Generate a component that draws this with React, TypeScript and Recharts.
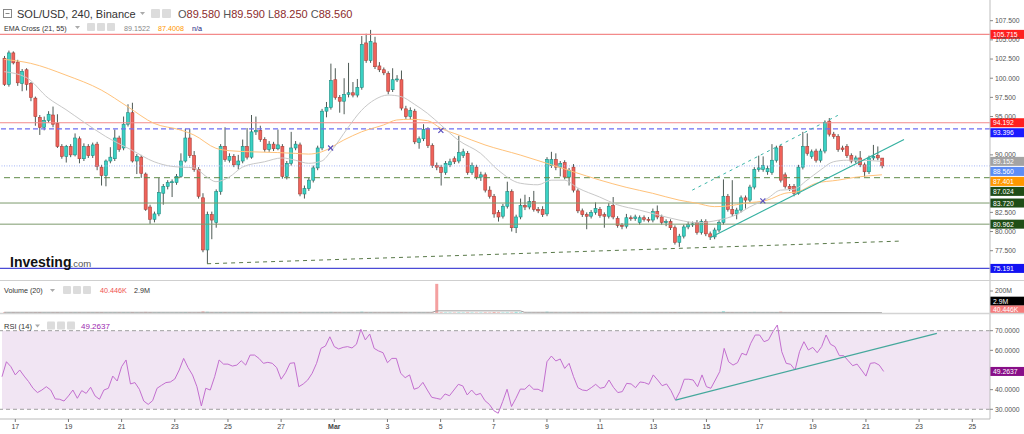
import React from 'react';
import { ComposedChart, Bar, Line, XAxis, YAxis, ReferenceLine, ReferenceArea } from 'recharts';

const FONT = "'Liberation Sans', Arial, Helvetica, sans-serif";

// ---------- DATA (4h candles, index 0 = Feb 16 12:00) ----------
const opens = [
  102.6, 99.2, 103.3, 102.1, 99.3, 101.1, 99.3, 97.4, 94.9, 93.6,
  94.5, 95.2, 94.1, 91.1, 89.8, 91.1, 90.0, 92.1, 89.5, 91.1,
  89.9, 91.4, 88.4, 87.3, 89.2, 89.5, 92.2, 90.9, 94.0, 95.5,
  89.2, 89.7, 87.5, 83.2, 81.6, 82.3, 85.0, 85.9, 86.4, 86.4,
  87.2, 89.2, 92.2, 89.9, 88.1, 84.4, 77.6, 82.2, 81.2, 85.2,
  91.1, 89.3, 89.8, 88.7, 89.2, 91.1, 89.7, 93.0, 93.2, 92.0,
  90.7, 91.4, 90.8, 91.1, 87.2, 88.9, 90.9, 91.3, 84.9, 85.6,
  86.7, 88.3, 90.9, 95.7, 96.2, 99.8, 97.5, 97.0, 97.9, 98.1,
  97.8, 98.8, 104.6, 102.3, 104.6, 101.6, 101.1, 100.6, 98.5, 99.8,
  99.8, 96.0, 95.0, 95.7, 91.6, 92.1, 93.4, 91.2, 88.6, 88.4,
  87.7, 88.7, 89.5, 89.2, 89.9, 90.2, 87.7, 88.4, 87.1, 87.4,
  85.4, 84.6, 82.5, 82.0, 83.3, 85.2, 80.5, 81.9, 83.4, 83.2,
  83.9, 82.9, 82.9, 82.3, 88.6, 89.4, 88.4, 89.0, 87.1, 88.4,
  85.3, 82.7, 82.2, 82.0, 82.5, 82.9, 82.2, 82.0, 83.4, 81.7,
  80.8, 80.7, 81.8, 81.7, 81.2, 81.8, 81.6, 81.5, 82.6, 81.9,
  81.2, 81.3, 80.5, 78.6, 79.4, 80.6, 80.9, 81.2, 79.9, 81.3,
  79.7, 79.3, 80.2, 81.2, 84.6, 82.9, 82.3, 82.8, 84.4, 84.1,
  85.8, 88.1, 88.1, 87.8, 87.7, 89.3, 91.1, 87.4, 85.9, 85.9,
  85.0, 88.4, 91.1, 89.8, 90.5, 89.3, 90.5, 94.4, 92.7, 92.4,
  90.9, 91.1, 89.9, 89.2, 89.6, 88.7, 87.8, 89.6, 89.9, 89.58,
];
const highs = [
  102.9, 103.6, 103.5, 102.4, 101.2, 101.3, 99.5, 97.6, 95.2, 95.0,
  95.7, 96.3, 95.3, 91.4, 91.3, 91.4, 92.8, 92.4, 91.5, 91.4,
  91.6, 91.7, 88.7, 89.4, 91.0, 93.3, 92.5, 95.0, 96.6, 96.8,
  90.1, 90.0, 87.7, 83.5, 82.6, 87.0, 86.2, 86.7, 86.8, 87.5,
  90.2, 93.4, 93.4, 90.5, 88.4, 85.0, 82.6, 82.6, 85.5, 91.4,
  93.6, 90.2, 90.1, 90.0, 92.0, 93.5, 95.2, 95.0, 93.8, 92.3,
  91.8, 91.7, 93.3, 91.4, 89.2, 93.0, 91.8, 91.6, 86.0, 87.0,
  88.6, 91.2, 96.0, 96.9, 101.9, 101.3, 97.8, 100.0, 102.0, 99.5,
  99.9, 105.5, 105.8, 106.3, 105.4, 102.1, 101.4, 100.9, 101.3, 100.4,
  101.0, 96.4, 96.2, 96.0, 92.4, 94.0, 93.6, 91.5, 89.0, 88.7,
  89.2, 89.5, 89.8, 92.5, 90.8, 90.5, 89.0, 88.7, 87.8, 87.7,
  85.9, 84.9, 82.8, 83.6, 86.5, 85.5, 82.2, 84.3, 84.8, 84.5,
  85.3, 83.2, 83.3, 89.7, 90.4, 90.2, 89.2, 89.3, 88.3, 88.8,
  85.6, 83.0, 82.5, 82.8, 83.8, 83.2, 82.5, 83.7, 84.5, 82.0,
  81.1, 82.3, 82.1, 82.2, 82.1, 82.1, 81.9, 83.0, 83.4, 82.2,
  81.6, 81.6, 80.8, 79.7, 80.9, 81.3, 81.3, 81.5, 81.6, 81.6,
  80.0, 80.5, 81.5, 86.8, 84.9, 86.7, 83.1, 84.7, 84.7, 86.1,
  88.4, 89.9, 89.8, 88.6, 91.4, 91.2, 91.3, 87.7, 86.2, 86.2,
  88.7, 93.0, 92.8, 90.7, 90.8, 90.8, 94.5, 94.8, 93.0, 92.7,
  91.2, 91.4, 90.2, 89.9, 90.5, 89.0, 89.9, 91.3, 91.1, 89.59,
];
const lows = [
  99.0, 98.9, 101.8, 99.0, 98.3, 98.4, 97.0, 93.8, 92.6, 93.2,
  94.2, 93.6, 90.9, 89.5, 89.0, 89.7, 89.8, 88.9, 89.2, 89.6,
  89.6, 88.0, 86.0, 85.9, 88.9, 89.2, 90.4, 90.6, 93.7, 89.0,
  87.5, 87.0, 82.7, 81.0, 81.2, 82.0, 83.5, 85.5, 84.5, 86.1,
  87.0, 89.0, 89.6, 87.8, 84.3, 77.3, 75.8, 79.0, 80.5, 84.8,
  89.1, 89.0, 88.4, 88.1, 88.9, 89.4, 89.5, 92.6, 91.7, 90.4,
  90.4, 90.5, 90.6, 86.9, 86.8, 88.6, 90.6, 84.6, 84.3, 85.3,
  86.4, 88.0, 90.6, 94.9, 95.9, 97.2, 95.5, 95.3, 97.5, 97.5,
  97.5, 98.5, 102.0, 102.0, 101.2, 100.8, 100.4, 97.9, 98.2, 99.5,
  95.8, 94.7, 94.6, 91.4, 90.8, 91.8, 90.9, 88.3, 88.0, 86.0,
  87.4, 88.4, 88.8, 88.9, 89.6, 87.4, 87.4, 86.8, 86.6, 85.1,
  84.3, 81.8, 81.3, 81.7, 83.0, 80.0, 79.8, 81.6, 82.8, 82.9,
  82.6, 82.4, 81.9, 82.0, 88.3, 88.0, 87.2, 86.8, 86.0, 85.1,
  82.4, 81.9, 80.3, 81.7, 82.2, 81.8, 80.5, 81.7, 81.6, 80.5,
  80.3, 80.4, 81.4, 81.4, 80.9, 81.3, 81.2, 81.2, 81.6, 80.9,
  80.7, 80.2, 78.3, 78.0, 79.1, 80.3, 80.6, 79.6, 79.6, 79.4,
  78.9, 79.0, 79.9, 80.9, 82.6, 82.0, 81.6, 82.5, 83.0, 83.8,
  85.5, 87.8, 87.8, 87.4, 87.4, 89.0, 86.4, 85.6, 85.3, 84.6,
  84.8, 88.1, 89.9, 89.5, 89.0, 89.0, 90.2, 92.4, 92.1, 90.4,
  90.4, 89.6, 88.9, 88.9, 88.4, 87.1, 87.5, 89.3, 89.3, 88.25,
];
const closes = [
  99.2, 103.3, 102.0, 99.4, 100.9, 99.2, 97.5, 95.0, 93.6, 94.5,
  95.3, 94.0, 91.1, 89.8, 91.1, 90.0, 92.2, 89.5, 91.1, 89.9,
  91.3, 88.5, 87.3, 89.2, 89.7, 92.2, 90.7, 94.0, 95.5, 89.2,
  89.8, 87.6, 82.9, 81.6, 82.3, 85.1, 85.9, 86.4, 86.5, 87.2,
  89.2, 92.2, 89.9, 88.1, 84.6, 77.6, 82.2, 81.5, 85.2, 91.1,
  89.4, 89.8, 88.7, 89.2, 91.1, 89.7, 93.0, 93.2, 92.0, 90.7,
  91.4, 90.8, 91.3, 87.2, 88.9, 90.9, 91.4, 84.9, 85.6, 86.7,
  88.3, 90.9, 95.7, 96.2, 99.7, 97.5, 97.0, 97.9, 98.1, 97.8,
  98.8, 104.4, 102.3, 104.8, 101.5, 101.1, 100.7, 98.3, 99.8, 99.9,
  96.1, 95.0, 95.8, 91.7, 92.1, 93.3, 91.2, 88.6, 88.4, 87.7,
  88.9, 89.1, 89.1, 90.3, 90.4, 87.7, 88.6, 87.1, 87.4, 85.4,
  84.6, 82.3, 81.9, 83.3, 85.2, 80.5, 81.9, 83.4, 83.2, 83.9,
  82.9, 82.7, 82.2, 89.4, 89.4, 88.4, 88.9, 87.1, 88.0, 85.4,
  82.7, 82.2, 82.0, 82.5, 83.0, 82.1, 82.0, 83.3, 81.9, 80.8,
  80.7, 81.8, 81.7, 81.9, 81.8, 81.6, 81.5, 82.6, 81.9, 81.2,
  81.3, 80.5, 78.6, 79.4, 80.6, 80.9, 81.0, 79.9, 81.3, 79.7,
  79.3, 80.2, 81.2, 84.6, 82.9, 82.3, 82.8, 84.4, 84.1, 85.8,
  88.1, 88.3, 88.6, 88.2, 89.3, 90.9, 86.7, 85.9, 85.6, 85.0,
  88.4, 91.1, 90.2, 90.4, 89.3, 90.5, 94.2, 92.7, 92.4, 90.7,
  90.7, 89.9, 89.2, 89.6, 88.7, 87.8, 89.6, 89.8, 89.6, 88.56,
];
const rsiValues = [
  46.6, 54.2, 51.7, 47.5, 50.0, 46.9, 44.1, 40.7, 38.5, 39.8,
  41.5, 39.8, 35.3, 35.1, 34.2, 36.8, 39.8, 35.6, 39.5, 38.1,
  41.2, 36.8, 35.1, 39.8, 40.7, 46.9, 44.4, 51.7, 55.1, 42.9,
  43.6, 40.2, 34.2, 32.5, 34.4, 40.7, 42.2, 43.6, 43.9, 45.4,
  50.0, 55.9, 51.2, 47.5, 41.5, 31.7, 40.7, 39.8, 46.6, 55.1,
  53.0, 53.0, 52.0, 52.5, 54.7, 52.5, 57.6, 57.6, 55.9, 53.4,
  53.9, 53.4, 51.2, 45.3, 48.6, 53.4, 53.7, 41.5, 42.9, 44.9,
  48.3, 53.4, 61.0, 62.2, 66.9, 61.9, 60.7, 61.5, 61.9, 61.2,
  63.1, 70.7, 65.3, 68.3, 61.0, 59.7, 58.8, 53.7, 55.9, 55.9,
  48.3, 46.1, 47.5, 40.2, 41.0, 43.7, 39.8, 36.1, 35.6, 35.1,
  37.8, 36.9, 39.8, 42.7, 41.9, 37.3, 39.8, 37.3, 38.1, 34.4,
  32.5, 29.3, 28.0, 33.9, 40.2, 31.4, 35.6, 40.3, 40.2, 42.4,
  40.2, 40.2, 39.0, 54.2, 57.1, 54.6, 55.6, 50.8, 53.4, 46.6,
  41.0, 39.8, 39.5, 41.0, 42.7, 40.7, 41.2, 44.9, 41.2, 38.5,
  39.0, 43.2, 42.9, 41.0, 43.9, 43.6, 42.7, 47.5, 44.9, 42.0,
  42.9, 39.5, 34.7, 39.0, 45.3, 45.3, 44.9, 41.5, 47.5, 41.5,
  40.7, 44.9, 49.2, 61.0, 54.2, 52.5, 53.7, 58.5, 57.6, 63.6,
  67.8, 67.8, 64.4, 65.3, 69.5, 72.9, 59.3, 53.4, 52.9, 50.0,
  59.3, 64.4, 60.2, 61.5, 58.8, 61.9, 67.8, 63.1, 61.9, 57.3,
  57.3, 54.7, 52.2, 53.0, 50.0, 46.9, 53.4, 53.7, 52.5, 49.2637,
];
// volume in millions
const volumes = [
  6, 5, 7, 4, 5, 6, 5, 8, 9, 5, 4, 6, 7, 5, 4, 5, 6, 5, 4, 5,
  6, 7, 8, 6, 5, 6, 5, 7, 6, 9, 5, 6, 10, 8, 5, 7, 5, 4, 4, 5,
  6, 8, 6, 5, 7, 14, 11, 6, 7, 9,
  8, 5, 4, 5, 6, 7, 8, 5, 4, 5, 4, 4, 5, 6, 5, 6, 5, 9, 6, 5,
  5, 6, 9, 6, 10, 8, 6, 5, 6, 5, 5, 12, 9, 8, 7, 5, 4, 5, 6, 5,
  8, 6, 5, 5, 7, 5, 6, 7,
  265,
  6, 5, 5, 4, 6, 5, 6, 5, 4, 5, 6, 5, 9, 6, 5, 6, 5, 10, 7, 5,
  4, 5, 6, 5, 12, 7, 6, 5, 4, 6, 5, 8, 6, 5, 5, 4, 4, 5, 6, 5,
  5, 4, 4, 5, 4, 5, 4, 4, 6, 5, 5,
  5, 6, 9, 7, 6, 5, 4, 5, 6, 5, 5, 6, 7, 16, 9, 8, 6, 7, 6, 8,
  10, 6, 7, 5, 8, 9, 12, 8, 6, 5,
  3, 4, 3, 2, 3, 2, 4, 3, 2, 3, 2, 3, 2, 2, 3, 3, 2, 2, 2, 0.04,
];
const volMaIdx = [0, 97, 98, 117, 118, 160, 179, 199];
const volMaVal = [6.5, 6.2, 19.4, 19.6, 6.4, 6.0, 5.5, 2.9];

const ema21Idx = [0, 5, 10, 14, 18, 23, 29, 34, 38, 43, 46, 48, 51, 54, 59, 63, 66, 69, 72, 74, 78, 81, 84, 87, 90, 93, 96, 99, 103, 108, 112, 117, 121, 124, 127, 130, 135, 139, 144, 148, 153, 157, 162, 166, 169, 173, 176, 179, 182, 185, 188, 191, 194, 199];
const ema21Val = [100.85, 100.1, 97.4, 95.9, 94.3, 92.4, 90.6, 89.1, 88.5, 88.3, 87.1, 86.5, 87.1, 88.4, 89.1, 89.6, 89.3, 88.9, 89.2, 90.4, 93.6, 95.8, 97.2, 97.8, 97.6, 96.6, 95.4, 93.9, 91.9, 90.2, 88.0, 86.3, 86.1, 86.7, 86.7, 85.7, 84.5, 83.5, 82.8, 82.2, 81.5, 81.15, 81.5, 82.2, 83.2, 84.3, 85.4, 85.5, 86.7, 88.0, 89.1, 89.3, 89.3, 89.152];
const ema55Idx = [0, 6, 14, 22, 28, 34, 40, 43, 48, 51, 56, 62, 66, 69, 72, 77, 81, 86, 89, 92, 96, 99, 103, 109, 117, 123, 129, 135, 141, 147, 153, 157, 161, 164, 168, 173, 177, 180, 184, 189, 193, 199];
const ema55Val = [102.45, 101.94, 100.4, 98.46, 96.28, 94.1, 93.24, 92.6, 90.86, 90.55, 90.4, 90.3, 90.2, 90.1, 90.4, 91.94, 93.0, 93.9, 94.55, 94.64, 94.46, 93.47, 92.6, 91.3, 89.98, 88.9, 87.8, 86.72, 85.77, 84.99, 84.1, 83.7, 83.25, 83.33, 83.7, 84.1, 84.99, 85.2, 86.29, 86.7, 87.08, 87.401];

const crossIdx = [74, 99, 172];
const crossVal = [90.9, 93.2, 84.0];

const trendSolidIdx = [160, 204];
const trendSolidVal = [79.2, 92.0];
const trendChannelIdx = [156, 189];
const trendChannelVal = [85.4, 95.15];
const trendLongIdx = [46, 203];
const trendLongVal = [75.8, 78.75];
const rsiTrendIdx = [152, 211];
const rsiTrendVal = [34.7, 68.7];

const levels = [105.715, 94.192, 93.396, 88.56, 87.024, 83.72, 80.962, 75.191];
const levelLabels = ['105.715', '94.192', '93.396', '88.560', '87.024', '83.720', '80.962', '75.191'];
const ema21Last = 89.152;
const ema55Last = 87.401;

const priceTicks = [77.5, 80, 82.5, 90, 95, 97.5, 100, 102.5, 105, 107.5];
const rsiTicks = [30, 40, 60, 70];
const rsiLast = 49.2637;
const volTicks = [200];
const volMaLast = 2.9;
const volLast = 0.04;

const dayTickIdx = [3, 15, 27, 39, 51, 63, 75, 87, 99, 111, 123, 135, 147, 159, 171, 183, 195, 207, 219];
const dayTickLabels = ['17', '19', '21', '23', '25', '27', 'Mar', '3', '5', '7', '9', '11', '13', '15', '17', '19', '21', '23', '25'];

const SLOTS = 224;

// ---------- STYLES ----------
const levelStyles = [
  { stroke: '#f38a8a', dash: undefined, width: 1.2, bg: '#ff1f1f', dy: 0 },
  { stroke: '#f38a8a', dash: undefined, width: 1.2, bg: '#ff1f1f', dy: 0 },
  { stroke: '#6f6ff2', dash: '5 3', width: 1.2, bg: '#1a1aff', dy: 3.9 },
  { stroke: '#a3b5f6', dash: '1 1.5', width: 1, bg: '#5c8df5', dy: 5.5 },
  { stroke: '#5f8a47', dash: '6 4', width: 1, bg: '#1f4d16', dy: 13.7 },
  { stroke: '#7d9a6d', dash: undefined, width: 1, bg: '#1f4d16', dy: 0 },
  { stroke: '#7d9a6d', dash: undefined, width: 1, bg: '#1f4d16', dy: 0 },
  { stroke: '#4b4bd6', dash: undefined, width: 1.2, bg: '#1212f2', dy: 0 },
];

const UP_FILL = '#3ad2c4';
const UP_STROKE = '#1f8a80';
const DN_FILL = '#f0625a';
const DN_STROKE = '#a84039';
const WICK = '#4e5a55';

// ---------- ROWS ----------
type Row = { [k: string]: any };
const rows: Row[] = Array.from({ length: SLOTS }, (_, i) => {
  const has = i < opens.length;
  return {
    i,
    o: has ? opens[i] : null,
    h: has ? highs[i] : null,
    l: has ? lows[i] : null,
    c: has ? closes[i] : null,
    range: has ? [lows[i], highs[i]] : null,
    rsi: has ? rsiValues[i] : null,
    vol: has ? volumes[i] : null,
    up: has ? closes[i] >= opens[i] : null,
    ema21: null, ema55: null, volMA: null, cross: null,
    trendSolid: null, trendChannel: null, trendLong: null, rsiTrend: null,
  };
});
const put = (key: string, idx: number[], val: number[]) => {
  idx.forEach((ix, k) => { if (rows[ix]) rows[ix][key] = val[k]; });
};
put('ema21', ema21Idx, ema21Val);
put('ema55', ema55Idx, ema55Val);
put('volMA', volMaIdx, volMaVal);
put('cross', crossIdx, crossVal);
put('trendSolid', trendSolidIdx, trendSolidVal);
put('trendChannel', trendChannelIdx, trendChannelVal);
put('trendLong', trendLongIdx, trendLongVal);
put('rsiTrend', rsiTrendIdx, rsiTrendVal);

// ---------- SHAPES ----------
function Candle(props: any) {
  const { x, y, width, height, payload } = props;
  if (!payload || payload.o == null || !Number.isFinite(y) || !Number.isFinite(height)) return <g />;
  const { o, h, l, c } = payload;
  const top = Math.min(y, y + height);
  const len = Math.abs(height);
  const span = h - l;
  const k = span > 0 ? len / span : 0;
  const py = (v: number) => top + (h - v) * k;
  const up = c >= o;
  const cx = x + width / 2;
  const bt = py(Math.max(o, c));
  const bb = py(Math.min(o, c));
  const bh = Math.max(1, bb - bt);
  return (
    <g>
      <line x1={cx} x2={cx} y1={top} y2={top + len} stroke={WICK} strokeWidth={1} />
      <rect x={x} y={bt} width={width} height={bh} fill={up ? UP_FILL : DN_FILL} stroke={up ? UP_STROKE : DN_STROKE} strokeWidth={0.6} />
    </g>
  );
}

function VolBar(props: any) {
  const { x, y, width, height, payload } = props;
  if (!payload || payload.vol == null || !Number.isFinite(y)) return <g />;
  const big = payload.vol > 100;
  const fill = big ? '#f4a0a0' : payload.up ? 'rgba(58,210,196,0.55)' : 'rgba(240,98,90,0.55)';
  return <rect x={x} y={Math.min(y, y + height)} width={width} height={Math.abs(height)} fill={fill} />;
}

function CrossDot(props: any) {
  const { cx, cy, payload, index } = props;
  if (!payload || payload.cross == null || !Number.isFinite(cy)) return <g key={`cd${index}`} />;
  return (
    <g key={`cd${index}`}>
      <line x1={cx - 2.5} y1={cy - 2.5} x2={cx + 2.5} y2={cy + 2.5} stroke="#5b4fbf" strokeWidth={1.2} />
      <line x1={cx - 2.5} y1={cy + 2.5} x2={cx + 2.5} y2={cy - 2.5} stroke="#5b4fbf" strokeWidth={1.2} />
    </g>
  );
}

function Badge(props: any) {
  const { viewBox, text, bg, fg, dy, w } = props;
  if (!viewBox) return null;
  const x0 = (viewBox.x ?? 0) + (viewBox.width ?? 0);
  const cy = (viewBox.y ?? 0) + (dy ?? 0);
  const width = w ?? 34;
  return (
    <g>
      <rect x={x0} y={cy - 4.5} width={width} height={9} fill={bg} />
      <text x={x0 + 3} y={cy + 2.5} fontSize={6.8} fill={fg ?? '#fff'} fontFamily={FONT}>{text}</text>
    </g>
  );
}

function DayTick(props: any) {
  const { x, y, payload } = props;
  const k = dayTickIdx.indexOf(payload?.value);
  const label = k >= 0 ? dayTickLabels[k] : '';
  return (
    <text x={x} y={y + 5} textAnchor="middle" fontSize={7} fill="#444" fontFamily={FONT} fontWeight={label === 'Mar' ? 'bold' : 'normal'}>
      {label}
    </text>
  );
}

const axisTick = { fontSize: 6.8, fill: '#555', fontFamily: FONT };
const M0 = { top: 0, right: 0, bottom: 0, left: 0 };

function MainPane() {
  return (
    <ComposedChart width={1024} height={280} data={rows} margin={M0}>
      <XAxis dataKey="i" type="category" hide padding={{ left: 2, right: 0 }} />
      <YAxis orientation="right" domain={[73.68, 110.2]} allowDataOverflow ticks={priceTicks} interval={0}
        tickFormatter={(v: number) => v.toFixed(3)} width={34} tickSize={3} tick={axisTick}
        tickLine={{ stroke: '#888' }} axisLine={{ stroke: '#bdbdbd' }} />
      {levels.map((v, k) => (
        <ReferenceLine key={`lv${k}`} y={v} stroke={levelStyles[k].stroke} strokeWidth={levelStyles[k].width}
          strokeDasharray={levelStyles[k].dash}
          label={<Badge text={levelLabels[k]} bg={levelStyles[k].bg} dy={levelStyles[k].dy} />} />
      ))}
      <ReferenceLine y={ema21Last} stroke="none" label={<Badge text={ema21Last.toFixed(3)} bg="#a3a3a3" dy={0} />} />
      <ReferenceLine y={ema55Last} stroke="none" label={<Badge text={ema55Last.toFixed(3)} bg="#ff9800" dy={6.6} />} />
      <Line dataKey="ema55" type="monotone" stroke="#ffc27a" strokeWidth={1} dot={false} activeDot={false} connectNulls isAnimationActive={false} />
      <Line dataKey="ema21" type="monotone" stroke="#c8c8c8" strokeWidth={1} dot={false} activeDot={false} connectNulls isAnimationActive={false} />
      <Line dataKey="trendLong" type="linear" stroke="#5a7a4a" strokeWidth={1} strokeDasharray="4 4" dot={false} activeDot={false} connectNulls isAnimationActive={false} />
      <Line dataKey="trendChannel" type="linear" stroke="#3bb5a8" strokeWidth={1} strokeDasharray="3 4" dot={false} activeDot={false} connectNulls isAnimationActive={false} />
      <Bar dataKey="range" barSize={3} shape={(p: any) => <Candle {...p} />} isAnimationActive={false} />
      <Line dataKey="trendSolid" type="linear" stroke="#34b0a0" strokeWidth={1.2} dot={false} activeDot={false} connectNulls isAnimationActive={false} />
      <Line dataKey="cross" type="linear" stroke="none" dot={(p: any) => <CrossDot {...p} />} activeDot={false} isAnimationActive={false} />
    </ComposedChart>
  );
}

function VolumePane() {
  return (
    <ComposedChart width={1024} height={33} data={rows} margin={{ top: 0, right: 0, bottom: 1, left: 0 }}>
      <XAxis dataKey="i" type="category" hide padding={{ left: 2, right: 0 }} />
      <YAxis orientation="right" domain={[0, 291]} allowDataOverflow ticks={volTicks} interval={0}
        tickFormatter={(v: number) => `${v}M`} width={34} tickSize={3} tick={axisTick}
        tickLine={{ stroke: '#888' }} axisLine={{ stroke: '#bdbdbd' }} />
      <Bar dataKey="vol" barSize={3} shape={(p: any) => <VolBar {...p} />} isAnimationActive={false} />
      <Line dataKey="volMA" type="linear" stroke="#9e9e9e" strokeWidth={1} dot={false} activeDot={false} connectNulls isAnimationActive={false} />
      <ReferenceLine y={volMaLast} stroke="none" label={<Badge text="2.9M" bg="#000000" dy={-11.5} />} />
      <ReferenceLine y={volLast} stroke="none" label={<Badge text="40.446K" bg="#f77b7b" dy={-3} />} />
    </ComposedChart>
  );
}

function RsiPane() {
  return (
    <ComposedChart width={1024} height={120} data={rows} margin={M0}>
      <XAxis dataKey="i" type="category" padding={{ left: 2, right: 0 }} ticks={dayTickIdx} interval={0} height={15}
        tickSize={3} axisLine={{ stroke: '#bbb' }} tickLine={{ stroke: '#777' }} tick={(p: any) => <DayTick {...p} />} />
      <YAxis orientation="right" domain={[25.06, 78.5]} allowDataOverflow ticks={rsiTicks} interval={0}
        tickFormatter={(v: number) => v.toFixed(4)} width={34} tickSize={3} tick={axisTick}
        tickLine={{ stroke: '#888' }} axisLine={{ stroke: '#bdbdbd' }} />
      <ReferenceArea y1={30} y2={70} fill="#f1e5f3" fillOpacity={1} stroke="none" />
      <ReferenceLine y={70} stroke="#9e9e9e" strokeDasharray="4 3" />
      <ReferenceLine y={30} stroke="#9e9e9e" strokeDasharray="4 3" />
      <Line dataKey="rsi" type="linear" stroke="#c36fcf" strokeWidth={1} dot={false} activeDot={false} isAnimationActive={false} />
      <Line dataKey="rsiTrend" type="linear" stroke="#45a89c" strokeWidth={1.3} dot={false} activeDot={false} connectNulls isAnimationActive={false} />
      <ReferenceLine y={rsiLast} stroke="none" label={<Badge text="49.2637" bg="#880e88" dy={0} />} />
    </ComposedChart>
  );
}

function Tri({ x, y }: { x: number; y: number }) {
  return <path d={`M${x} ${y} L${x + 5} ${y} L${x + 2.5} ${y + 3} Z`} fill="#aaa" />;
}
function Icons({ x, y, n, s }: { x: number; y: number; n: number; s: number }) {
  return (
    <g>
      {Array.from({ length: n }, (_, k) => (
        <rect key={k} x={x + k * (s + 2)} y={y} width={s} height={s} rx={1} fill="#dcdcdc" />
      ))}
    </g>
  );
}

function Overlay() {
  return (
    <svg width={1024} height={434} style={{ position: 'absolute', left: 0, top: 0, pointerEvents: 'none' }}>
      {/* separators */}
      <line x1={0} x2={1024} y1={280.5} y2={280.5} stroke="#cfcfcf" />
      <line x1={0} x2={1024} y1={313.5} y2={313.5} stroke="#d4d4d4" strokeWidth={1.5} />
      {/* header line 1 */}
      <rect x={3.5} y={9.5} width={8} height={8} fill="none" stroke="#888" />
      <line x1={5.5} x2={9.5} y1={13.5} y2={13.5} stroke="#888" />
      <text x={17} y={18} fontSize={11} fill="#333" fontFamily={FONT}>SOL/USD, 240, Binance</text>
      <Tri x={140} y={12} />
      <Icons x={151} y={9} n={2} s={9} />
      <text x={178} y={18} fontSize={11} fontFamily={FONT}>
        <tspan fill="#555">O</tspan><tspan fill="#8c2b2b">89.580</tspan>
        <tspan fill="#555"> H</tspan><tspan fill="#8c2b2b">89.590</tspan>
        <tspan fill="#555"> L</tspan><tspan fill="#8c2b2b">88.250</tspan>
        <tspan fill="#555"> C</tspan><tspan fill="#8c2b2b">88.560</tspan>
      </text>
      {/* header line 2 */}
      <text x={4} y={30.5} fontSize={7.2} fill="#333" fontFamily={FONT}>EMA Cross (21, 55)</text>
      <Tri x={75} y={26} />
      <Icons x={87} y={23} n={3} s={8} />
      <text x={124} y={30.5} fontSize={7.2} fill="#888" fontFamily={FONT}>89.1522</text>
      <text x={158} y={30.5} fontSize={7.2} fill="#ff9800" fontFamily={FONT}>87.4008</text>
      <text x={192} y={30.5} fontSize={7.2} fill="#1a237e" fontFamily={FONT}>n/a</text>
      {/* logo */}
      <text x={10} y={267} fontSize={14} fontWeight="bold" fill="#111" fontFamily={FONT}>Investing</text>
      <text x={70.5} y={267} fontSize={9.5} fill="#555" fontFamily={FONT}>.com</text>
      {/* volume header */}
      <text x={4} y={293} fontSize={7.2} fill="#333" fontFamily={FONT}>Volume (20)</text>
      <Tri x={50} y={289} />
      <Icons x={63} y={286} n={3} s={8} />
      <text x={100} y={293} fontSize={7.2} fill="#ef5350" fontFamily={FONT}>40.446K</text>
      <text x={134} y={293} fontSize={7.2} fill="#333" fontFamily={FONT}>2.9M</text>
      {/* rsi header */}
      <text x={4} y={328.5} fontSize={7.5} fill="#333" fontFamily={FONT}>RSI (14)</text>
      <Tri x={35} y={324.5} />
      <Icons x={47} y={321.5} n={3} s={8} />
      <text x={81} y={328.5} fontSize={8} fill="#9c27b0" fontFamily={FONT}>49.2637</text>
    </svg>
  );
}

export default function App() {
  return (
    <div style={{ position: 'absolute', left: 0, top: 0, width: 1024, height: 434, background: '#fff', overflow: 'hidden', fontFamily: FONT }}>
      <div style={{ position: 'absolute', left: 0, top: 0 }}><MainPane /></div>
      <div style={{ position: 'absolute', left: 0, top: 281 }}><VolumePane /></div>
      <div style={{ position: 'absolute', left: 0, top: 314 }}><RsiPane /></div>
      <Overlay />
    </div>
  );
}
